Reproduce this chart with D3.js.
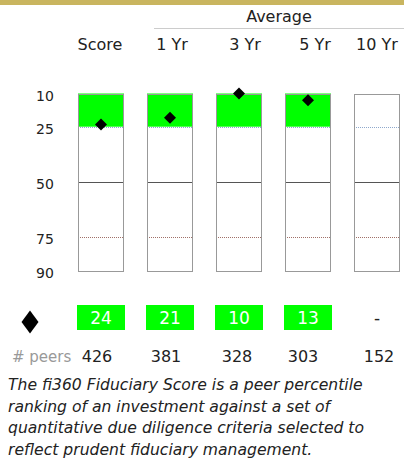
<!DOCTYPE html>
<html><head><meta charset="utf-8">
<script src="https://cdn.jsdelivr.net/npm/d3@7/dist/d3.min.js"></script>
<style>body{margin:0;background:#fff;}svg{display:block;font-family:"DejaVu Sans",Verdana,sans-serif;}</style>
</head><body><svg id="c" width="404" height="460"></svg>
<script>
const categories = ["Score", "1 Yr", "3 Yr", "5 Yr", "10 Yr"];
const scores = [24, 21, 10, 13, null];
const peers = [426, 381, 328, 303, 152];
const tickValues = [10, 25, 50, 75, 90];
const footnote = [
  "The fi360 Fiduciary Score is a peer percentile",
  "ranking of an investment against a set of",
  "quantitative due diligence criteria selected to",
  "reflect prudent fiduciary management."
];

const svg = d3.select("#c");
const x = d3.scalePoint().domain(categories).range([101, 377]);
const y = d3.scaleLinear().domain([10, 90]).range([93.5, 270.5]);
const bw = 46;

svg.append("rect").attr("x", 0).attr("y", 0).attr("width", 404).attr("height", 5).attr("fill", "#c9b55f");

svg.append("text").attr("x", 279).attr("y", 22).attr("text-anchor", "middle")
  .attr("font-size", 16).attr("fill", "#222").text("Average");
svg.append("line").attr("x1", 154).attr("x2", 404).attr("y1", 28.5).attr("y2", 28.5)
  .attr("stroke", "#ccc").attr("stroke-width", 1);

const headerOffsets = [-1, 2, 6, 7, 0];
svg.selectAll(".hdr").data(categories).join("text")
  .attr("x", (d, i) => x(d) + headerOffsets[i]).attr("y", 50).attr("text-anchor", "middle")
  .attr("font-size", 16).attr("fill", "#222").text(d => d);

// y tick labels
svg.selectAll(".tick").data(tickValues).join("text")
  .attr("x", 45).attr("y", d => y(d) + 7).attr("text-anchor", "middle")
  .attr("font-size", 14).attr("fill", "#222").text(d => d);

const g = svg.selectAll(".col").data(categories).join("g")
  .attr("transform", d => `translate(${x(d) - bw / 2},0)`);

g.filter((d, i) => scores[i] != null).append("rect")
  .attr("x", 0).attr("y", y(10)).attr("width", bw).attr("height", y(25) - y(10))
  .attr("fill", "#00ff00");

g.append("line").attr("x1", 0).attr("x2", bw).attr("y1", Math.round(y(25)) + 0.5).attr("y2", Math.round(y(25)) + 0.5)
  .attr("stroke", "#8fa8cc").attr("stroke-dasharray", "1,1").attr("stroke-width", 1);
g.append("line").attr("x1", 0).attr("x2", bw).attr("y1", Math.round(y(50)) + 0.5).attr("y2", Math.round(y(50)) + 0.5)
  .attr("stroke", "#555").attr("stroke-width", 1);
g.append("line").attr("x1", 0).attr("x2", bw).attr("y1", Math.round(y(75)) + 0.5).attr("y2", Math.round(y(75)) + 0.5)
  .attr("stroke", "#a07068").attr("stroke-dasharray", "1,1").attr("stroke-width", 1);
g.append("rect").attr("x", 0.5).attr("y", Math.round(y(10)) + 0.5).attr("width", bw - 1)
  .attr("height", Math.round(y(90)) - Math.round(y(10)))
  .attr("fill", "none").attr("stroke", "#999").attr("stroke-width", 1);

// diamonds
const diamond = (cx, cy, w, h) => `M${cx},${cy - h / 2}L${cx + w / 2},${cy}L${cx},${cy + h / 2}L${cx - w / 2},${cy}Z`;
svg.selectAll(".dia").data(categories.filter((d, i) => scores[i] != null)).join("path")
  .attr("d", (d, i) => diamond(x(d), y(scores[i]), 12, 12)).attr("fill", "#000");

// legend diamond
svg.append("path").attr("d", diamond(30, 322, 17, 23)).attr("fill", "#000");

// value boxes
const vb = svg.selectAll(".vb").data(categories).join("g");
vb.filter((d, i) => scores[i] != null).append("rect")
  .attr("x", d => x(d) - 24).attr("y", 305).attr("width", 48).attr("height", 25).attr("fill", "#00ff00");
vb.append("text").attr("x", d => x(d)).attr("y", 323.5).attr("text-anchor", "middle")
  .attr("font-size", 17).attr("fill", (d, i) => scores[i] != null ? "#fff" : "#222")
  .text((d, i) => scores[i] != null ? scores[i] : "-");

svg.append("text").attr("x", 12).attr("y", 362).attr("font-size", 15).attr("fill", "#999").text("# peers");
const peerOffsets = [-4, -4, -2, -5, 2];
svg.selectAll(".peer").data(categories).join("text")
  .attr("x", (d, i) => x(d) + peerOffsets[i]).attr("y", 362).attr("text-anchor", "middle")
  .attr("font-size", 16).attr("fill", "#222").text((d, i) => peers[i]);

svg.selectAll(".fn").data(footnote).join("text")
  .attr("x", 8).attr("y", (d, i) => 390 + i * 21.7)
  .attr("font-size", 15.6).attr("font-style", "italic").attr("fill", "#222").text(d => d);
</script></body></html>
